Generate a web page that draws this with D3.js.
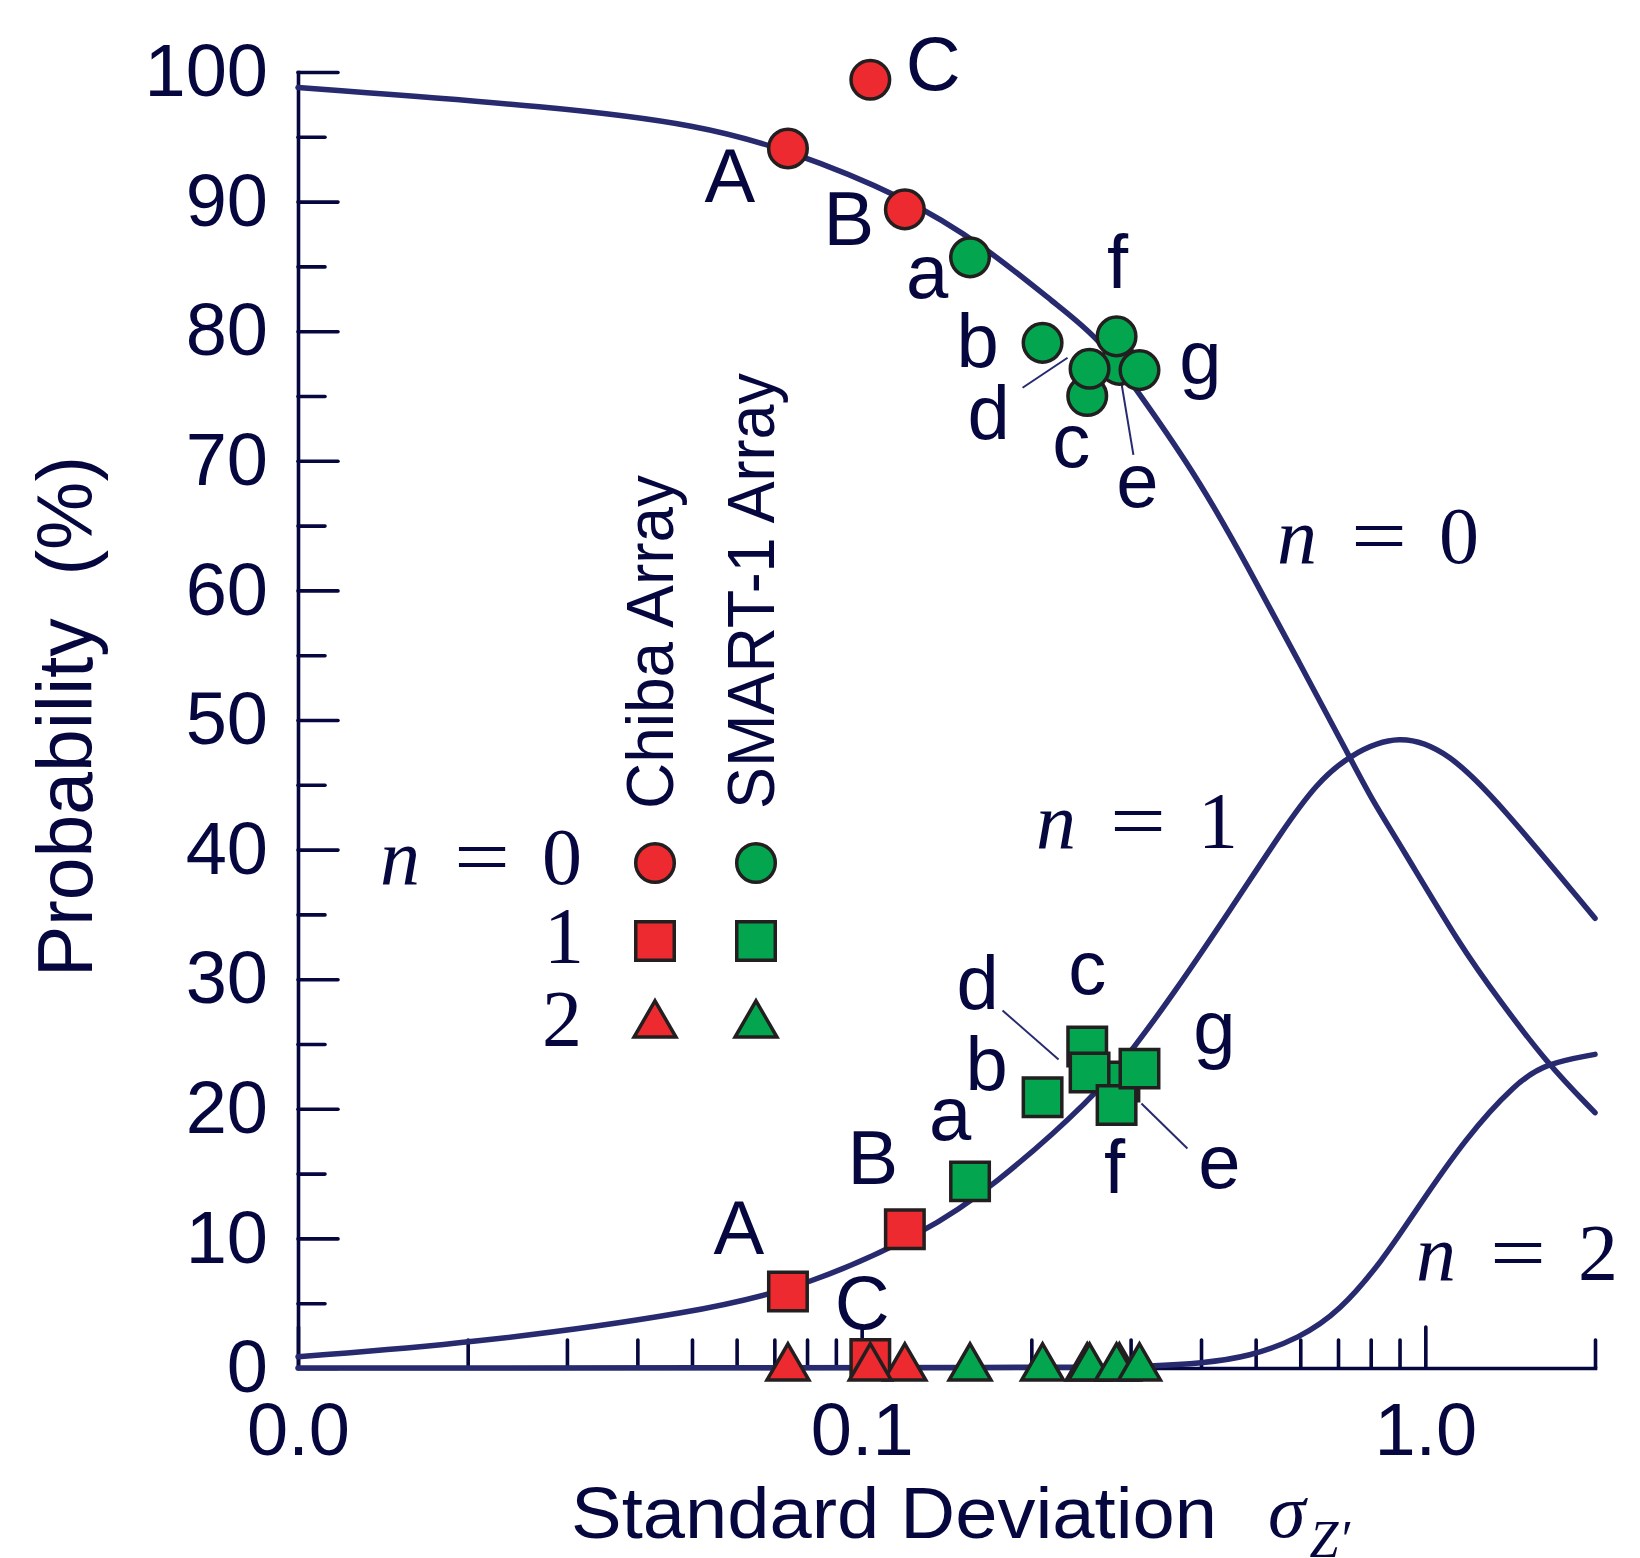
<!DOCTYPE html>
<html>
<head>
<meta charset="utf-8">
<script src="https://cdn.jsdelivr.net/npm/d3@7"></script>
<style>
  body { margin: 0; background: #fff; }
  svg { display: block; }
</style>
</head>
<body>
<svg id="chart" width="1640" height="1558"></svg>
<script>
// Stations (Chiba: A-C, SMART-1: a-g) and the values
const stations = ['A', 'B', 'C', 'a', 'b', 'c', 'd', 'e', 'f', 'g'];
const isChiba = [true, true, true, false, false, false, false, false, false, false];
const sigma = [0.0740, 0.1193, 0.1036, 0.1557, 0.2094, 0.2513, 0.2537, 0.2866, 0.2833, 0.3111];
const probN0 = [94.1, 89.4, 99.4, 85.7, 79.1, 75.0, 77.1, 77.4, 79.6, 77.0];
const probN1 = [5.9, 10.7, 0.7, 14.4, 20.9, 24.8, 22.8, 22.1, 20.3, 23.1];
const probN2 = [0, 0, 0, 0, 0, 0, 0, 0, 0, 0];

// theoretical curves
const n0Sigma = [0.01, 0.0291, 0.0516, 0.074, 0.119, 0.166, 0.222, 0.262, 0.311, 0.3975, 0.4875, 0.598, 0.733, 0.805, 0.899, 1.16, 1.353, 1.637, 2.0];
const n0Prob = [98.8, 97.3, 95.9, 94.0, 90.4, 86.5, 82.0, 79.6, 75.2, 68.5, 61.6, 54.4, 47.2, 43.8, 40.5, 32.4, 28.4, 23.6, 19.7];
const n1Sigma = [0.01, 0.02, 0.0516, 0.081, 0.13, 0.17, 0.259, 0.305, 0.354, 0.455, 0.558, 0.641, 0.733, 0.899, 1.103, 1.353, 2.0];
const n1Prob = [0.87, 1.85, 4.3, 6.4, 10.5, 13.9, 20.9, 24.8, 28.6, 35.6, 41.5, 45.1, 47.3, 49.0, 47.5, 43.6, 34.7];
const n2Sigma = [0.01, 0.25, 0.328, 0.4, 0.4875, 0.598, 0.704, 0.84, 0.963, 1.181, 1.448, 1.637, 2.0];
const n2Prob = [0, 0.02, 0.15, 0.36, 0.87, 2.3, 4.35, 8.3, 12.2, 17.8, 22.0, 23.5, 24.2];

// axes
const xMajorTicks = [0.01, 0.1, 1];
const xTickLabels = ['0.0', '0.1', '1.0'];
const xMinorTicks = [0.02, 0.03, 0.04, 0.05, 0.06, 0.07, 0.08, 0.09, 0.2, 0.3, 0.4, 0.5, 0.6, 0.7, 0.8, 0.9, 2];
const yMajorTicks = [0, 10, 20, 30, 40, 50, 60, 70, 80, 90, 100];
const yMinorTicks = [5, 15, 25, 35, 45, 55, 65, 75, 85, 95];

// ---- layout ----
const ink = '#07073f';
const lineColor = '#272a6f';
const red = '#ec2a2f';
const green = '#03a64f';
const edge = '#231f20';
const sans = 'Liberation Sans, Arial, Helvetica, sans-serif';
const serif = 'Liberation Serif, Times New Roman, serif';

// label offsets (px) from each marker: [dx, dy] to label centre/baseline
const labelOffN0 = [[-58, 54], [-56, 36], [63, 10], [-43, 41], [-65, 24], [-16, 71], [-101, 70], [18, 142], [1, -48], [61, 14]];
const labelOffN1 = [[-49, -38], [-32, -45], [-8, -30], [-20, -41], [-56, -7], [0, -53], [-112, -64], [100, 106], [-2, 88], [75, -15]];
const drawOrder = [0, 1, 2, 3, 4, 5, 7, 6, 8, 9];

const svg = d3.select('#chart');

const x = d3.scaleLog().domain([0.01, 2]).range([298, 1595]);
const y = d3.scaleLinear().domain([0, 100]).range([1368, 72]);

function styleAxis(g) {
  g.select('.domain').attr('stroke', ink).attr('stroke-width', 3.6).attr('stroke-linecap', 'square');
  g.selectAll('.tick line').attr('stroke', ink).attr('stroke-width', 3.6).attr('stroke-linecap', 'round');
  g.selectAll('.tick text').attr('fill', ink).attr('font-family', sans).attr('font-size', 74);
}

// y axis (ticks pointing inward)
svg.append('g')
  .attr('transform', `translate(${x(0.01)},0)`)
  .call(d3.axisLeft(y).tickValues(yMinorTicks).tickSize(-27).tickSizeOuter(0).tickFormat(''))
  .call(g => g.select('.domain').remove())
  .call(styleAxis);
svg.append('g')
  .attr('transform', `translate(${x(0.01)},0)`)
  .call(d3.axisLeft(y).tickValues(yMajorTicks).tickSize(-40).tickSizeOuter(0).tickPadding(30).tickFormat(d3.format('d')))
  .call(styleAxis);

// x axis (log)
svg.append('g')
  .attr('transform', `translate(0,${y(0)})`)
  .call(d3.axisBottom(x).tickValues(xMinorTicks).tickSize(-28).tickSizeOuter(0).tickFormat(''))
  .call(g => g.select('.domain').remove())
  .call(styleAxis);
svg.append('g')
  .attr('transform', `translate(0,${y(0)})`)
  .call(d3.axisBottom(x).tickValues(xMajorTicks).tickSize(-41).tickSizeOuter(0).tickPadding(34)
    .tickFormat((d, i) => xTickLabels[i]))
  .call(styleAxis);

// axis titles
svg.append('text')
  .attr('transform', 'translate(92,977) rotate(-90)')
  .attr('font-family', sans).attr('font-size', 77).attr('fill', ink)
  .attr('textLength', 521).attr('lengthAdjust', 'spacingAndGlyphs')
  .text('Probability\u00a0\u00a0(%)');

svg.append('text')
  .attr('x', 571).attr('y', 1538)
  .attr('font-family', sans).attr('font-size', 72).attr('fill', ink)
  .attr('textLength', 646).attr('lengthAdjust', 'spacingAndGlyphs')
  .text('Standard Deviation');
const sig = svg.append('text')
  .attr('x', 1268).attr('y', 1537)
  .attr('font-family', serif).attr('font-style', 'italic').attr('font-size', 76).attr('fill', ink);
sig.append('tspan').text('σ');
sig.append('tspan').attr('font-size', 52).attr('dy', 20).attr('dx', 4).text('Z′');

// curves
const line = d3.line()
  .x(d => x(d[0]))
  .y(d => y(d[1]))
  .curve(d3.curveBasis);

[[n0Sigma, n0Prob], [n1Sigma, n1Prob], [n2Sigma, n2Prob]].forEach(([sx, py]) => {
  svg.append('path')
    .datum(sx.map((s, i) => [s, py[i]]))
    .attr('d', line)
    .attr('fill', 'none')
    .attr('stroke', lineColor)
    .attr('stroke-width', 5.5)
    .attr('stroke-linecap', 'round');
});

// math labels "n = k"
function mathLabel(px, baseline, digit, withN) {
  const g = svg.append('g').attr('font-family', serif).attr('font-size', 80).attr('fill', ink);
  if (withN) {
    g.append('text').attr('x', px).attr('y', baseline).attr('font-style', 'italic').text('n');
    g.append('text').attr('x', px + 74).attr('y', baseline).attr('textLength', 56)
      .attr('lengthAdjust', 'spacingAndGlyphs').text('=');
    g.append('text').attr('x', px + 162).attr('y', baseline).text(digit);
  } else {
    g.append('text').attr('x', px).attr('y', baseline).text(digit);
  }
}
mathLabel(1277, 563, '0', true);
mathLabel(1036, 848, '1', true);
mathLabel(1416, 1280, '2', true);

// leader lines for the crowded d / e markers
const leaders = [
  { i: 6, vals: probN0, from: [-67, 19], to: [-22, -11] },
  { i: 7, vals: probN0, from: [1, 12], to: [14, 90] },
  { i: 6, vals: probN1, from: [-87, -62], to: [-31, -13] },
  { i: 7, vals: probN1, from: [22, 22], to: [68, 67] }
];
leaders.forEach(l => {
  const cx = x(sigma[l.i]), cy = y(l.vals[l.i]);
  svg.append('line')
    .attr('x1', cx + l.from[0]).attr('y1', cy + l.from[1])
    .attr('x2', cx + l.to[0]).attr('y2', cy + l.to[1])
    .attr('stroke', lineColor).attr('stroke-width', 2);
});

// markers
const sym = {
  0: d3.symbol().type(d3.symbolCircle).size(1170)(),
  1: d3.symbol().type(d3.symbolSquare).size(1482)(),
  2: d3.symbol().type(d3.symbolTriangle).size(760)()
};

function drawMarkers(vals, n) {
  svg.append('g').selectAll('path')
    .data(drawOrder)
    .join('path')
    .attr('d', sym[n])
    .attr('transform', i => `translate(${x(sigma[i])},${y(vals[i])})`)
    .attr('fill', i => isChiba[i] ? red : green)
    .attr('stroke', edge)
    .attr('stroke-width', 3.5);
}
drawMarkers(probN1, 1);
drawMarkers(probN0, 0);
drawMarkers(probN2, 2);

// station letters
function drawLetters(vals, offs) {
  svg.append('g').selectAll('text')
    .data(stations)
    .join('text')
    .attr('x', (d, i) => x(sigma[i]) + offs[i][0])
    .attr('y', (d, i) => y(vals[i]) + offs[i][1])
    .attr('text-anchor', 'middle')
    .attr('font-family', sans).attr('font-size', 76).attr('fill', ink)
    .text(d => d);
}
drawLetters(probN0, labelOffN0);
drawLetters(probN1, labelOffN1);

// legend
const legendCols = [{ x: 655, fill: red, name: 'Chiba Array', len: 334 }, { x: 756, fill: green, name: 'SMART-1 Array', len: 436 }];
const legendRows = [{ n: 0, y: 863 }, { n: 1, y: 941 }, { n: 2, y: 1025 }];

mathLabel(380, 884, '0', true);
mathLabel(544, 963, '1', false);
mathLabel(542, 1046, '2', false);

legendCols.forEach(c => {
  legendRows.forEach(r => {
    svg.append('path')
      .attr('d', sym[r.n])
      .attr('transform', `translate(${c.x},${r.y})`)
      .attr('fill', c.fill)
      .attr('stroke', edge)
      .attr('stroke-width', 3.5);
  });
  svg.append('text')
    .attr('transform', `translate(${c.x + 18},809) rotate(-90)`)
    .attr('font-family', sans).attr('font-size', 66).attr('fill', ink)
    .attr('textLength', c.len).attr('lengthAdjust', 'spacingAndGlyphs')
    .text(c.name);
});
</script>
</body>
</html>
